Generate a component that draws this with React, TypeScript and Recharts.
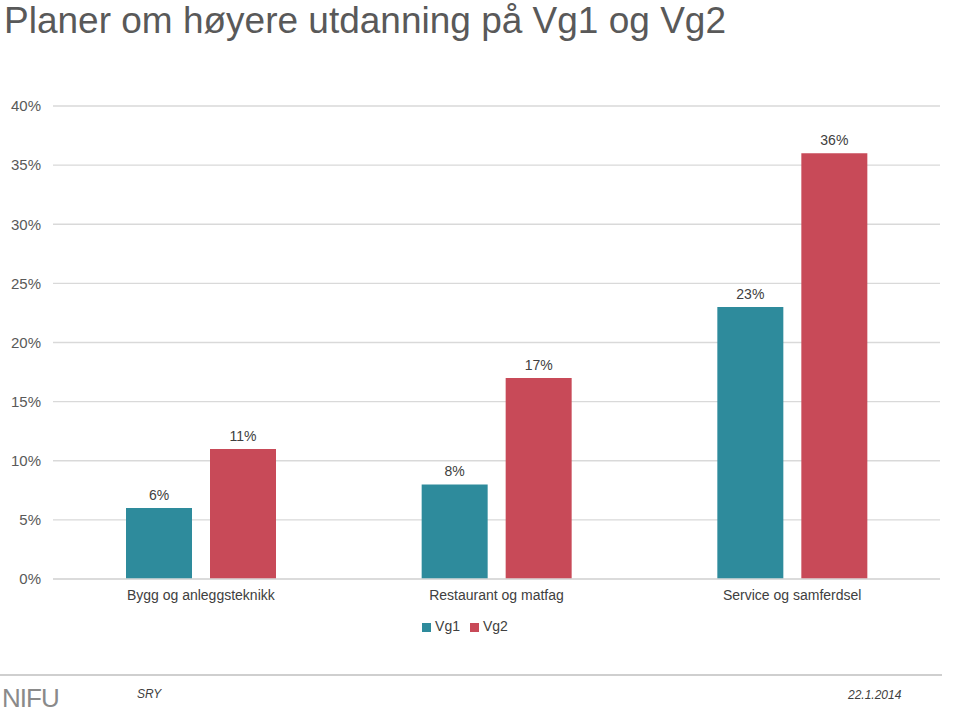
import { BarChart, Bar, XAxis, YAxis, CartesianGrid, Legend, LabelList } from "recharts";

// ─── Data ────────────────────────────────────────────────────────────────────

const CATEGORIES = ["Bygg og anleggsteknikk", "Restaurant og matfag", "Service og samferdsel"];
const VG1 = [6, 8, 23];
const VG2 = [11, 17, 36];
const Y_TICKS = [0, 5, 10, 15, 20, 25, 30, 35, 40];

const data = CATEGORIES.map((name, i) => ({ name, vg1: VG1[i], vg2: VG2[i] }));

// ─── Constants ───────────────────────────────────────────────────────────────

const FONT = "'Liberation Sans', Arial, sans-serif";
const TEAL = "#2e8b9c";
const RED = "#c84a58";

export default function App() {
  return (
    <div
      style={{
        position: "absolute",
        left: 0,
        top: 0,
        width: 960,
        height: 713,
        background: "#fff",
        fontFamily: FONT,
        overflow: "hidden",
      }}
    >
      <div
        style={{
          position: "absolute",
          left: 4,
          top: 0,
          fontSize: 37,
          color: "#595959",
          lineHeight: "normal",
          whiteSpace: "nowrap",
        }}
      >
        Planer om høyere utdanning på Vg1 og Vg2
      </div>

      <div style={{ position: "absolute", left: 0, top: 0 }}>
        <BarChart
          width={960}
          height={660}
          data={data}
          margin={{ top: 106, right: 20, bottom: 35, left: 0 }}
          barGap={18}
        >
          <CartesianGrid vertical={false} stroke="#d9d9d9" strokeWidth={1.3} />
          <XAxis
            dataKey="name"
            axisLine={{ stroke: "#d9d9d9", strokeWidth: 1.3 }}
            tickLine={false}
            tickSize={0}
            tickMargin={11}
            tick={{ fontSize: 14, fill: "#404040", fontFamily: FONT }}
            interval={0}
          />
          <YAxis
            width={53}
            domain={[0, 40]}
            ticks={Y_TICKS}
            axisLine={false}
            tickLine={false}
            tickSize={0}
            tickMargin={12}
            tickFormatter={(v) => `${v}%`}
            tick={{ fontSize: 15, fill: "#595959", fontFamily: FONT }}
          />
          <Legend
            verticalAlign="bottom"
            iconType="square"
            iconSize={9}
            wrapperStyle={{ bottom: 26, fontSize: 14, fontFamily: FONT }}
            formatter={(value) => <span style={{ color: "#404040" }}>{value}</span>}
          />
          <Bar dataKey="vg1" name="Vg1" fill={TEAL} barSize={66} isAnimationActive={false}>
            <LabelList
              dataKey="vg1"
              position="top"
              offset={8}
              formatter={(v: number) => `${v}%`}
              style={{ fontSize: 14, fill: "#404040", fontFamily: FONT }}
            />
          </Bar>
          <Bar dataKey="vg2" name="Vg2" fill={RED} barSize={66} isAnimationActive={false}>
            <LabelList
              dataKey="vg2"
              position="top"
              offset={8}
              formatter={(v: number) => `${v}%`}
              style={{ fontSize: 14, fill: "#404040", fontFamily: FONT }}
            />
          </Bar>
        </BarChart>
      </div>

      {/* Footer */}
      <div
        style={{
          position: "absolute",
          left: 0,
          top: 674,
          width: 942,
          height: 2,
          background: "#cfcfcf",
        }}
      />
      <div
        style={{
          position: "absolute",
          left: 2,
          top: 684,
          fontSize: 26,
          color: "#8a8a8a",
          letterSpacing: -1,
          lineHeight: "28px",
        }}
      >
        NIFU
      </div>
      <div
        style={{
          position: "absolute",
          left: 137,
          top: 687,
          fontSize: 12,
          fontStyle: "italic",
          color: "#404040",
        }}
      >
        SRY
      </div>
      <div
        style={{
          position: "absolute",
          left: 848,
          top: 688,
          fontSize: 12,
          fontStyle: "italic",
          color: "#404040",
        }}
      >
        22.1.2014
      </div>
    </div>
  );
}
